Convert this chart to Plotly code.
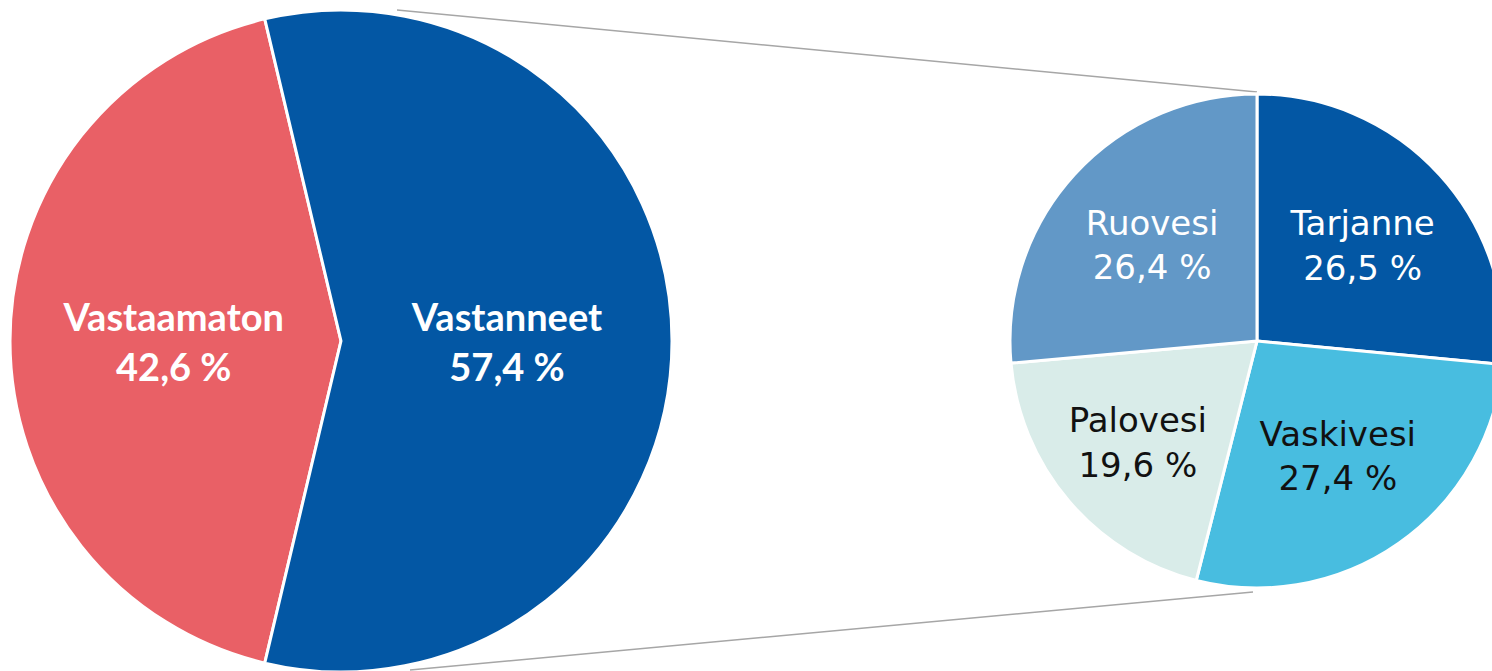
import plotly.graph_objects as go

# ---- data ----
main_labels = ["Vastaamaton", "Vastanneet"]
main_values = [42.6, 57.4]
sub_labels = ["Tarjanne", "Vaskivesi", "Palovesi", "Ruovesi"]
sub_values = [26.5, 27.4, 19.6, 26.4]

main_colors = ["#E96066", "#0357A4"]
sub_colors = ["#0357A4", "#48BDE0", "#D9ECE9", "#6298C7"]
sub_text_colors = ["white", "#111111", "#111111", "white"]


def fmt(v):
    return f"{v:.1f}".replace(".", ",") + " %"


W, H = 1520, 680


def dom(x0, x1, ytop, ybot):
    return dict(x=[x0 / W, x1 / W], y=[1 - ybot / H, 1 - ytop / H])


def px(x, y):
    return x / W, 1 - y / H


fig = go.Figure()

share0 = main_values[0] / sum(main_values)
fig.add_trace(go.Pie(
    labels=main_labels, values=main_values,
    text=[fmt(v) for v in main_values],
    texttemplate="%{label}<br>%{text}",
    textposition="inside", insidetextorientation="horizontal",
    textfont=dict(family="Lato", size=38, color="white", weight="bold"),
    marker=dict(colors=main_colors, line=dict(color="white", width=3)),
    sort=False, direction="clockwise", rotation=270 - 180 * share0,
    domain=dom(10, 672, 10, 672), hoverinfo="skip", showlegend=False,
))

fig.add_trace(go.Pie(
    labels=sub_labels, values=sub_values,
    text=[fmt(v) for v in sub_values],
    texttemplate="%{label}<br>%{text}",
    textposition="inside", insidetextorientation="horizontal",
    textfont=dict(family="DejaVu Sans", size=34, color=sub_text_colors),
    marker=dict(colors=sub_colors, line=dict(color="white", width=3)),
    sort=False, direction="clockwise", rotation=0,
    domain=dom(1010, 1504, 94, 588), hoverinfo="skip", showlegend=False,
))

for (a, b) in [((397, 10), (1257, 92)), ((410, 670), (1253, 592))]:
    x0, y0 = px(*a)
    x1, y1 = px(*b)
    fig.add_shape(type="line", xref="paper", yref="paper", x0=x0, y0=y0, x1=x1, y1=y1,
                  line=dict(color="#A6A6A6", width=1.5), layer="below")

fig.update_layout(
    width=W, height=H, margin=dict(l=0, r=0, t=0, b=0),
    paper_bgcolor="white", plot_bgcolor="white",
)

fig.write_html(
    "out.html",
    config={"displayModeBar": False},
    post_script="document.body.style.margin='0';document.body.style.overflow='hidden';",
)
